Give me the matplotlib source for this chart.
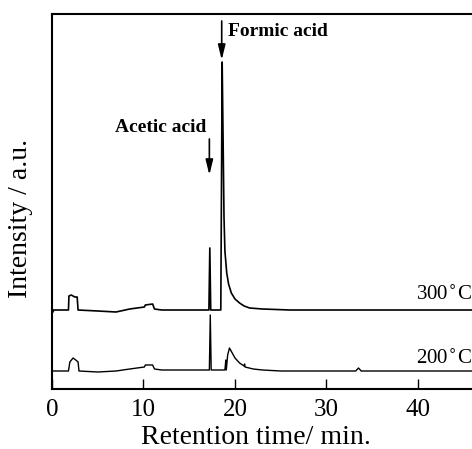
import numpy as np
import matplotlib.pyplot as plt

# chromatogram traces (time in min, intensity in a.u.)
t_300 = [0.0, 0.1, 0.2, 1.8, 1.85, 2.1, 2.5, 2.75, 2.85, 5.0, 7.0, 8.5, 10.1, 10.2, 11.0, 11.2,
         12.0, 17.15, 17.25, 17.35, 18.45, 18.6, 18.72, 18.8, 18.9, 19.1, 19.3, 19.6, 20.0,
         20.5, 21.0, 21.6, 23.0, 26.0, 47.0]
i_300 = [81, 77, 79, 79, 93, 94, 92, 92, 79, 78, 77, 80, 82, 84, 85, 80,
         79, 79, 141, 79, 79, 327, 235, 172, 138, 116, 105, 96, 90,
         86, 83, 81, 80, 79, 79]

t_200 = [0.0, 1.8, 1.95, 2.3, 2.6, 2.85, 2.95, 5.0, 7.0, 8.5, 10.1, 10.2, 11.0, 11.2,
         12.0, 17.2, 17.3, 17.4, 18.9, 19.0, 19.05, 19.2, 19.4, 19.7, 20.0, 20.5, 21.0,
         21.05, 21.1, 22.0, 23.0, 25.0, 33.2, 33.5, 33.8, 47.0]
i_200 = [18, 18, 27, 31, 29, 27, 18, 17, 18, 20, 22, 24, 24, 20,
         19, 19, 74, 19, 19, 29, 19, 34, 41, 36, 31, 26, 23,
         25, 22, 20, 19, 18, 18, 21, 18, 18]

tick_pos = [0, 10, 20, 30, 40]
serif = ['Liberation Serif', 'DejaVu Serif']

fig = plt.figure(figsize=(4.72, 4.49), dpi=100)
ax = fig.add_axes([52 / 472, 60 / 449, 430 / 472, 375 / 449])

ax.plot(t_300, i_300, color='black', lw=1.2)
ax.plot(t_200, i_200, color='black', lw=1.0)

ax.set_xlim(0, 47)
ax.set_ylim(0, 375)
ax.set_xticks(tick_pos)
ax.set_yticks([])
ax.tick_params(axis='x', direction='in', length=7, width=1.0, labelsize=18, pad=7)
for lbl in ax.get_xticklabels():
    lbl.set_family(serif)
for s in ax.spines.values():
    s.set_linewidth(1.5)

ax.set_xlabel('Retention time/ min.', fontsize=20, family=serif)
ax.set_ylabel('Intensity / a.u.', fontsize=20, family=serif)
ax.xaxis.set_label_coords(0.474, -0.095)
ax.yaxis.set_label_coords(-0.045, 0.456)

# peak labels with arrows
arrow = dict(arrowstyle='-|>,head_length=0.9,head_width=0.22', color='black', lw=1.2,
             shrinkA=0, shrinkB=0)
ax.annotate('', xy=(17.2, 214), xytext=(17.2, 250), arrowprops=arrow)
ax.annotate('', xy=(18.55, 329), xytext=(18.55, 368), arrowprops=arrow)
ax.text(16.9, 261, 'Acetic acid', fontsize=14, fontweight='bold', family=serif,
        ha='right', va='center')
ax.text(19.2, 357, 'Formic acid', fontsize=14, fontweight='bold', family=serif,
        ha='left', va='center')

ax.text(45.9, 94, '300$^{\\circ}$C', fontsize=15, family=serif, ha='right', va='center')
ax.text(45.9, 30, '200$^{\\circ}$C', fontsize=15, family=serif, ha='right', va='center')

fig.savefig('out.png', dpi=100)
